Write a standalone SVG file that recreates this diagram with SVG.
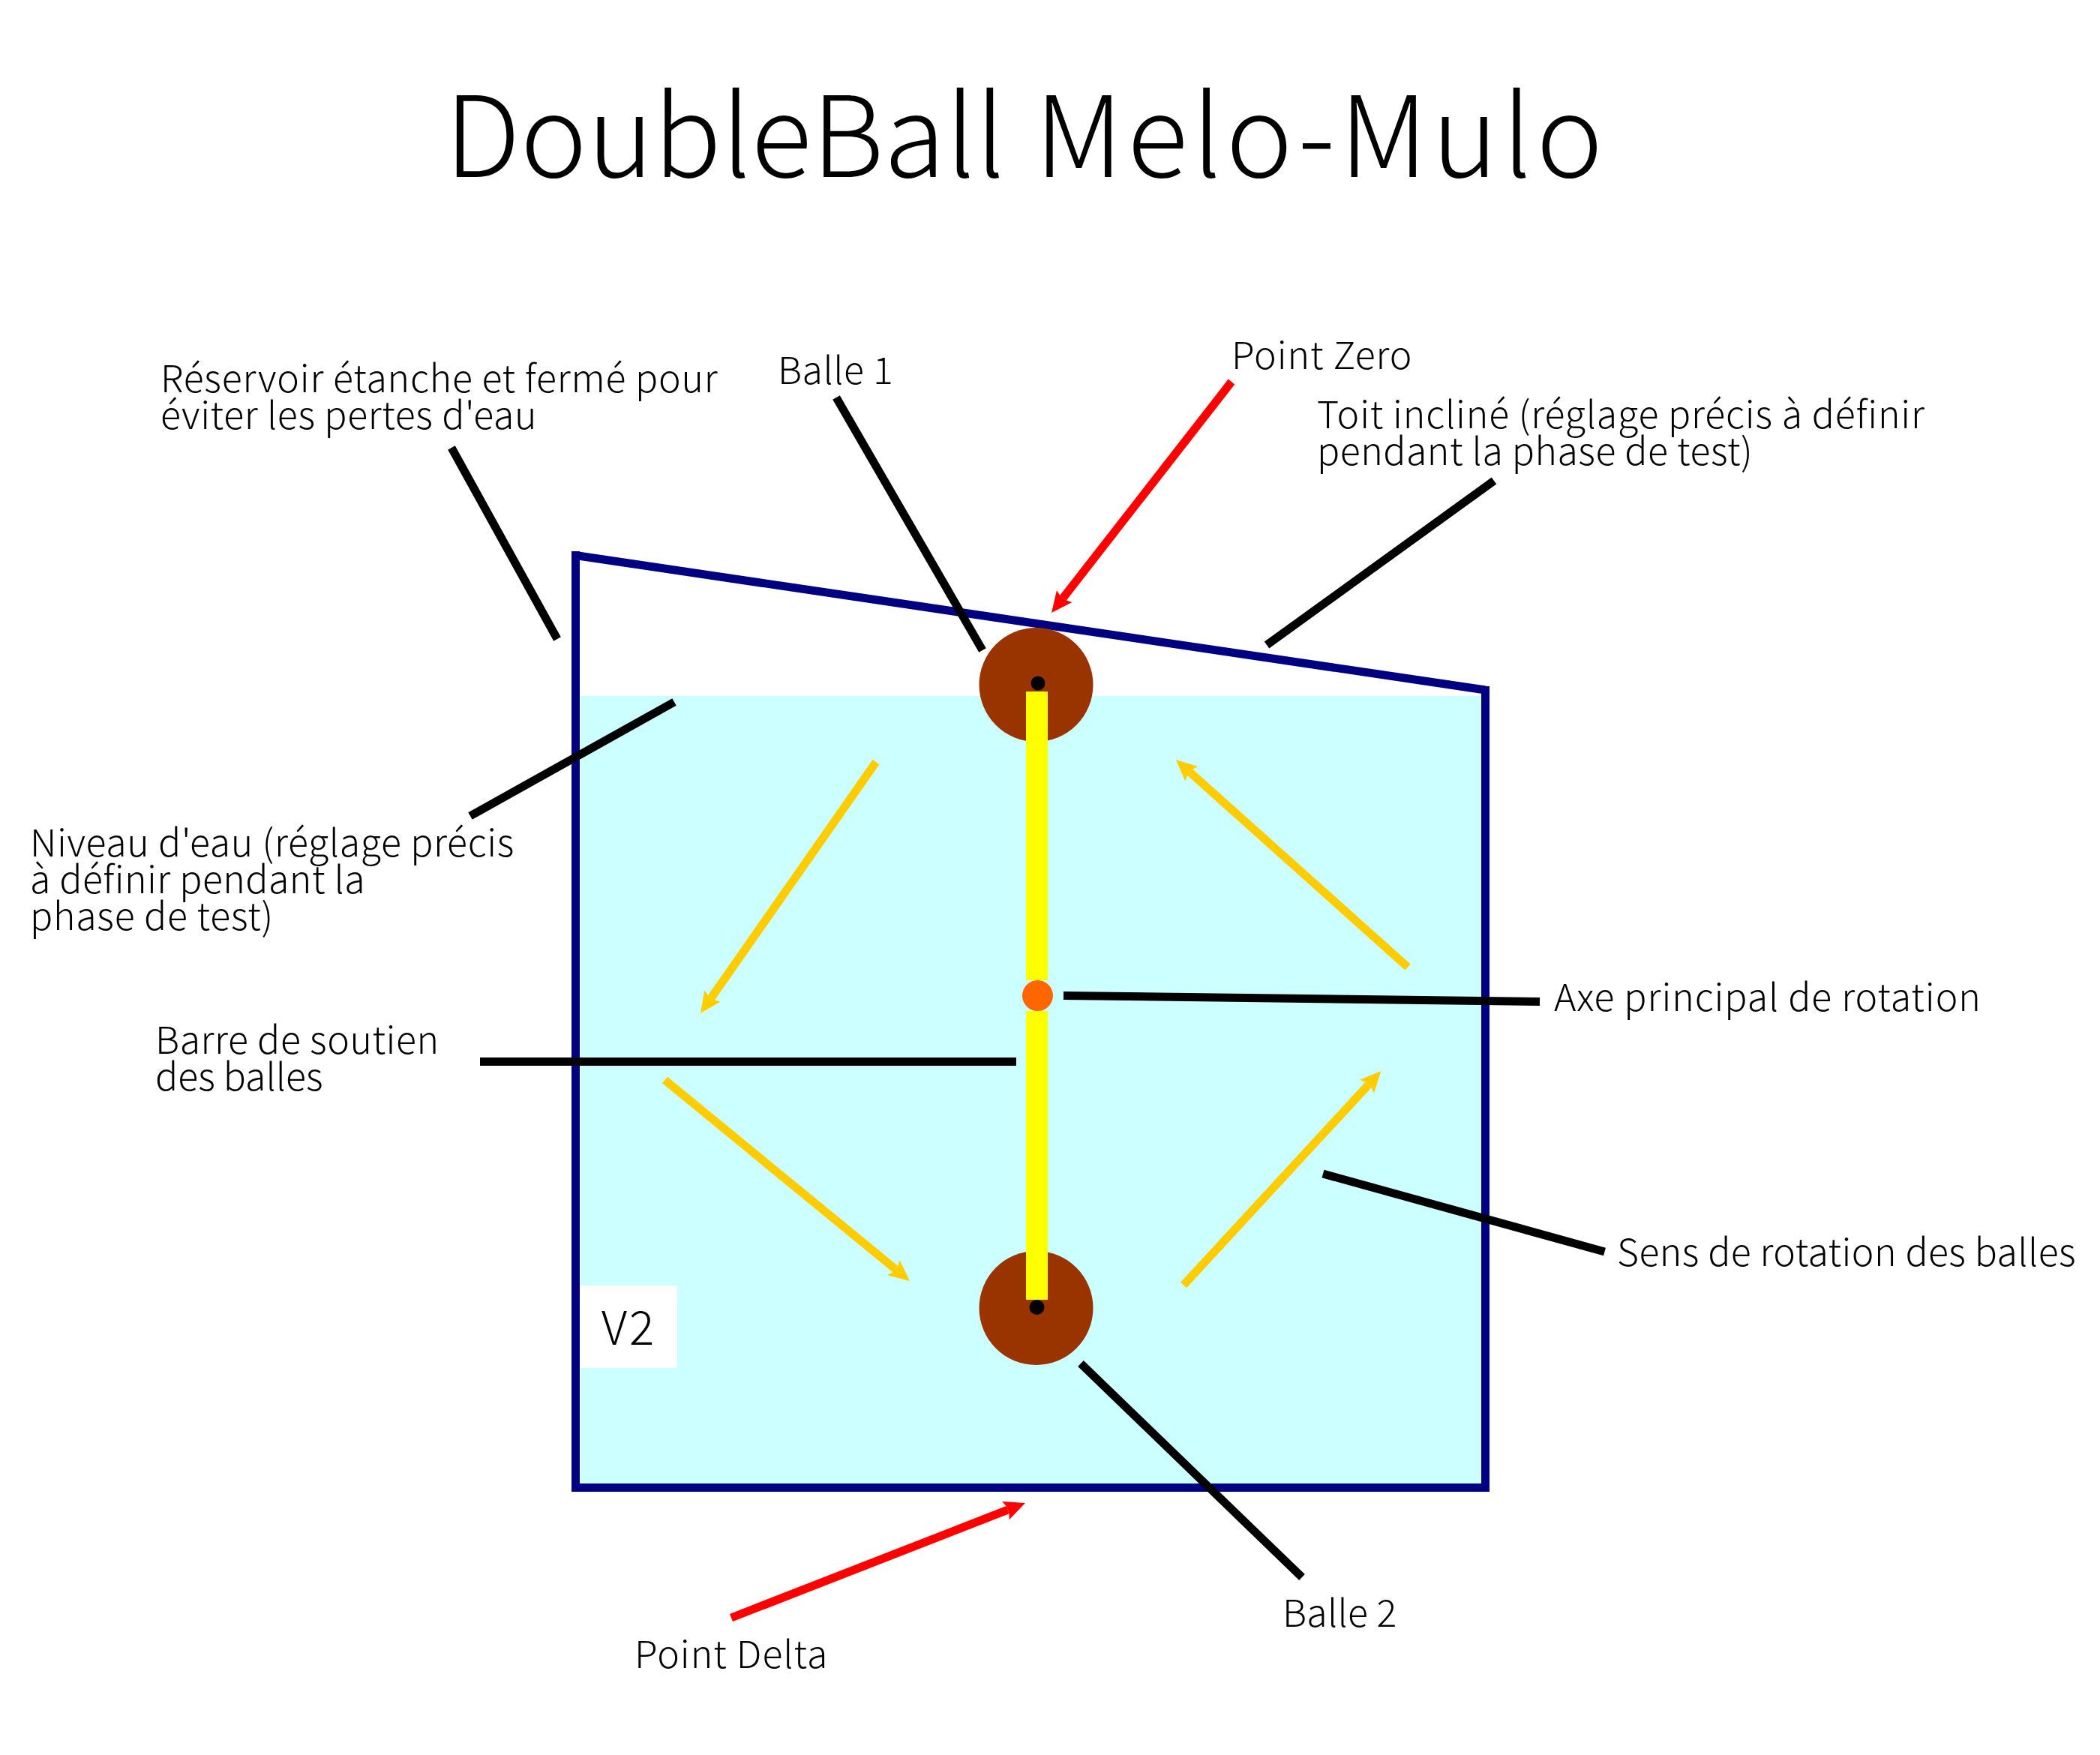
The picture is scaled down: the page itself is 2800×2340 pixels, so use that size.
<svg xmlns="http://www.w3.org/2000/svg" width="2800" height="2340" viewBox="0 0 2800 2340">
<style>
text{font-family:"Noto Sans CJK SC","Noto Sans CJK JP","Noto Sans",sans-serif;font-size:50px;font-weight:300;fill:#000}
.title{font-size:150px}
.v{font-size:62px;letter-spacing:3px}
.tank{fill:none;stroke:#000080;stroke-width:11}
.lead{stroke:#000;stroke-width:11;fill:none}
.rot{stroke:#ffcc00;stroke-width:11;fill:none;marker-end:url(#ay)}
.pt{stroke:#ff0000;stroke-width:11;fill:none;marker-end:url(#ar)}
.ball{fill:#993300}
.pin{fill:#000}
.bar{fill:#ffff00}
</style>
<defs>
<marker id="ay" markerUnits="userSpaceOnUse" viewBox="0 -15 30 30" refX="3" refY="0" markerWidth="30" markerHeight="30" orient="auto"><path d="M0,-13 L28,0 L0,13 L3,5 L3,-5 Z" fill="#ffcc00"/></marker>
<marker id="ar" markerUnits="userSpaceOnUse" viewBox="0 -15 30 30" refX="3" refY="0" markerWidth="30" markerHeight="30" orient="auto"><path d="M0,-13 L28,0 L0,13 L3,5 L3,-5 Z" fill="#ff0000"/></marker>
</defs>
<rect width="2800" height="2340" fill="#fff"/>
<g id="water"><rect x="774" y="928" width="1201" height="1050" fill="#ccffff"/></g>
<g id="tank">
<path class="tank" d="M767.5,735 V1983.5 H1980.5 V915"/>
<line class="tank" x1="767.5" y1="740.5" x2="1980.5" y2="920"/>
</g>
<g id="version"><rect x="773" y="1714" width="130" height="110" fill="#fff"/><text class="v" x="802" y="1793">V2</text></g>
<g id="ball1"><circle class="ball" cx="1381.5" cy="913" r="76"/><circle class="pin" cx="1384" cy="911" r="9.5"/></g>
<g id="ball2"><circle class="ball" cx="1381.5" cy="1744" r="76"/></g>
<g id="support-bar"><rect class="bar" x="1368" y="922" width="29" height="385"/><rect class="bar" x="1368" y="1348" width="29" height="385"/></g>
<g id="ball2-pin"><circle class="pin" cx="1382.5" cy="1743" r="10"/></g>
<g id="axis"><circle cx="1383.5" cy="1327.5" r="20.5" fill="#ff6600"/></g>
<g id="connectors">
<line class="rot" x1="1168" y1="1016" x2="948.3" y2="1330.5"/>
<line class="rot" x1="886.5" y1="1440" x2="1193.7" y2="1692.1"/>
<line class="rot" x1="1578" y1="1713.5" x2="1824.5" y2="1446.4"/>
<line class="rot" x1="1877" y1="1289.5" x2="1586.6" y2="1029.7"/>
<line class="pt" x1="1642" y1="509" x2="1417.4" y2="797.3"/>
<line class="pt" x1="975" y1="2157" x2="1343.7" y2="2013.1"/>
<line class="lead" x1="602" y1="597" x2="743" y2="852"/>
<line class="lead" x1="1115" y1="530" x2="1310" y2="867"/>
<line class="lead" x1="1992" y1="641" x2="1689" y2="860"/>
<line class="lead" x1="899" y1="936" x2="627" y2="1088"/>
<line class="lead" x1="640" y1="1415.5" x2="1355" y2="1415.5"/>
<line class="lead" x1="1418" y1="1327.5" x2="2053" y2="1335.5"/>
<line class="lead" x1="1764" y1="1565" x2="2139.5" y2="1669"/>
<line class="lead" x1="1441" y1="1818" x2="1736" y2="2103"/>
</g>
<g id="title"><text class="title" x="593" y="236">DoubleBall <tspan dx="6" style="letter-spacing:5.4px">Melo-Mulo</tspan></text></g>
<g id="label-reservoir"><text x="214" y="523" style="letter-spacing:.8px">Réservoir étanche et fermé pour</text><text x="214" y="572" style="letter-spacing:.62px">éviter les pertes d'eau</text></g>
<g id="label-balle1"><text x="1037" y="512" style="letter-spacing:.5px">Balle 1</text></g>
<g id="label-point-zero"><text x="1642" y="492" style="letter-spacing:.9px">Point Zero</text></g>
<g id="label-toit"><text x="1756" y="571" style="letter-spacing:.82px">Toit incliné (réglage précis à définir</text><text x="1756" y="620" style="letter-spacing:.5px">pendant la phase de test)</text></g>
<g id="label-niveau"><text x="40" y="1142" style="letter-spacing:.64px">Niveau d'eau (réglage précis</text><text x="40" y="1191" style="letter-spacing:.45px">à définir pendant la</text><text x="40" y="1240" style="letter-spacing:.76px">phase de test)</text></g>
<g id="label-barre"><text x="207" y="1405" style="letter-spacing:.56px">Barre de soutien</text><text x="207" y="1454">des balles</text></g>
<g id="label-axe"><text x="2072" y="1348" style="letter-spacing:.93px">Axe principal de rotation</text></g>
<g id="label-sens"><text x="2156" y="1688" style="letter-spacing:.4px">Sens de rotation des balles</text></g>
<g id="label-delta"><text x="846" y="2224" style="letter-spacing:.97px">Point Delta</text></g>
<g id="label-balle2"><text x="1710" y="2169" style="letter-spacing:.25px">Balle 2</text></g>
</svg>
